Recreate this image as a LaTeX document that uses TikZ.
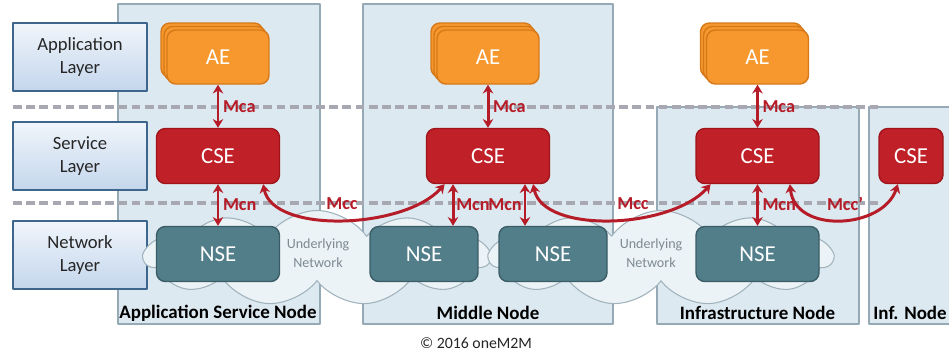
\documentclass[tikz,border=0pt]{standalone}
\usepackage{fontspec}
\setmainfont{Carlito}
\usetikzlibrary{shapes.symbols,arrows.meta}

\begin{document}
\begin{tikzpicture}[x=0.02cm, y=-0.02cm, line join=round,
  panel/.style={draw=panelline, fill=panelfill, line width=0.8pt},
  sep/.style={draw=sepgray, line width=2.2pt, dash pattern=on 5pt off 2.5pt},
  layerbox/.style={draw=layerline, line width=0.9pt, top color=layertop, bottom color=layerbot,
    minimum width=2.68cm, minimum height=1.36cm, align=center, text=black!85,
    font=\fontsize{10.6}{13}\selectfont},
  netcloud/.style={cloud, cloud puffs=11, cloud puff arc=110, cloud ignores aspect, draw=cloudline,
    fill=cloudfill, line width=0.6pt, inner sep=0pt},
  undertext/.style={align=center, text=undergray, font=\fontsize{8}{11}\selectfont},
  aebox/.style={draw=aeline, fill=aefill, line width=0.8pt, rounded corners=5pt,
    minimum width=2.04cm, minimum height=1.08cm, text=white, font=\fontsize{13}{15}\selectfont},
  csebox/.style={draw=cseline, fill=csefill, line width=0.8pt, rounded corners=5pt,
    minimum height=1.1cm, text=white, font=\fontsize{13}{15}\selectfont},
  nsebox/.style={draw=nseline, fill=nsefill, line width=0.8pt, rounded corners=5pt,
    minimum height=1.1cm, text=white, font=\fontsize{13}{15}\selectfont},
  conn/.style={draw=refred, line width=1.7pt,
    {Stealth[length=5pt,width=6pt]}-{Stealth[length=5pt,width=6pt]}},
  reflabel/.style={text=refred, inner sep=2pt, font=\fontsize{10.4}{12}\selectfont\bfseries},
  panellabel/.style={text=black, font=\fontsize{10.8}{13}\selectfont\bfseries},
  copyr/.style={text=black!85, font=\fontsize{9}{11}\selectfont}]
% Define colors
\definecolor{panelfill}{RGB}{221,233,240}
\definecolor{panelline}{RGB}{150,170,182}
\definecolor{sepgray}{RGB}{168,168,178}
\definecolor{layerline}{RGB}{62,102,140}
\definecolor{layertop}{RGB}{240,245,251}
\definecolor{layerbot}{RGB}{196,214,236}
\definecolor{cloudfill}{RGB}{236,243,246}
\definecolor{cloudline}{RGB}{160,178,188}
\definecolor{undergray}{RGB}{125,138,146}
\definecolor{aefill}{RGB}{246,152,46}
\definecolor{aeline}{RGB}{214,120,24}
\definecolor{csefill}{RGB}{192,32,40}
\definecolor{cseline}{RGB}{158,20,26}
\definecolor{nsefill}{RGB}{82,126,138}
\definecolor{nseline}{RGB}{58,92,102}
\definecolor{refred}{RGB}{182,28,40}

\useasboundingbox (0,0) rectangle (949,353);

% node panels
\draw[panel] (118,4) rectangle (320,324);
\draw[panel] (363,4) rectangle (613,324);
\draw[panel] (657,107) rectangle (859,324);
\draw[panel] (869,107) rectangle (960,324);

% layer borders
\foreach \y in {107, 203}
  \draw[sep] (13,\y) -- (878,\y);

\node[layerbox] (applayer) at (80,57) {Application\\Layer};
\node[layerbox] (svclayer) at (80,156) {Service\\Layer};
\node[layerbox] (netlayer) at (80,255) {Network\\Layer};

% underlying networks
\node[netcloud, minimum width=6.9cm, minimum height=1.9cm] (cloudA) at (317,258) {};
\node[netcloud, minimum width=6.85cm, minimum height=1.9cm] (cloudB) at (661,258) {};
\node[undertext] (underA) at (318,253) {Underlying\\Network};
\node[undertext] (underB) at (651,253) {Underlying\\Network};

% AE stacks
\foreach \n/\x in {1/218, 2/488, 3/757.5} {
  \node[aebox] (ae\n c) at (\x-6,50) {};
  \node[aebox] (ae\n b) at (\x-3,53.5) {};
  \node[aebox] (ae\n) at (\x,57) {AE};
}

% CSEs
\foreach \n/\x in {1/218, 2/488, 3/757.5}
  \node[csebox, minimum width=2.46cm] (cse\n) at (\x,156) {CSE};
\node[csebox, minimum width=1.28cm] (cse4) at (911,156) {CSE};

% NSEs
\node[nsebox, minimum width=2.46cm] (nse1) at (218,254) {NSE};
\node[nsebox, minimum width=2.16cm] (nse2) at (424,254) {NSE};
\node[nsebox, minimum width=2.16cm] (nse3) at (553,254) {NSE};
\node[nsebox, minimum width=2.46cm] (nse4) at (757.5,254) {NSE};

% Mca
\foreach \n in {1,2,3}
  \draw[conn] (ae\n) -- node[reflabel, right] (mca\n) {Mca} (cse\n);

% Mcn
\draw[conn] (cse1) -- node[reflabel, right] (mcn1) {Mcn} (nse1);
\draw[conn] ([xshift=-0.7cm]cse2.south) -- node[reflabel, right, inner sep=1pt] (mcn2)
  {Mcn} ([xshift=-0.7cm]cse2.south |- nse2.north);
\draw[conn] ([xshift=0.74cm]cse2.south) -- node[reflabel, left, inner sep=1pt] (mcn3)
  {Mcn} ([xshift=0.74cm]cse2.south |- nse3.north);
\draw[conn] (cse3) -- node[reflabel, right] (mcn4) {Mcn} (nse4);

% Mcc
\draw[conn] (cse1.-32) .. controls +(10,50) and +(-40,45) .. (cse2.-147);
\draw[conn] (cse2.-32) .. controls +(10,50) and +(-40,45) .. (cse3.-149);
\draw[conn] (cse3.-41) .. controls +(5,50) and +(-15,45) .. (cse4.-115);
\node[reflabel] (mcc1) at (342,204) {Mcc};
\node[reflabel] (mcc2) at (633,204) {Mcc};
\node[reflabel] (mcc3) at (845,204) {Mcc'};

% node names
\node[panellabel] (asnname) at (218,313) {Application Service Node};
\node[panellabel] (mnname) at (488,313) {Middle Node};
\node[panellabel] (inname) at (757.5,313) {Infrastructure Node};
\node[panellabel] (infname) at (910,313) {Inf. Node};

\node[copyr] (copyright) at (476,343) {© 2016 oneM2M};
\end{tikzpicture}
\end{document}
